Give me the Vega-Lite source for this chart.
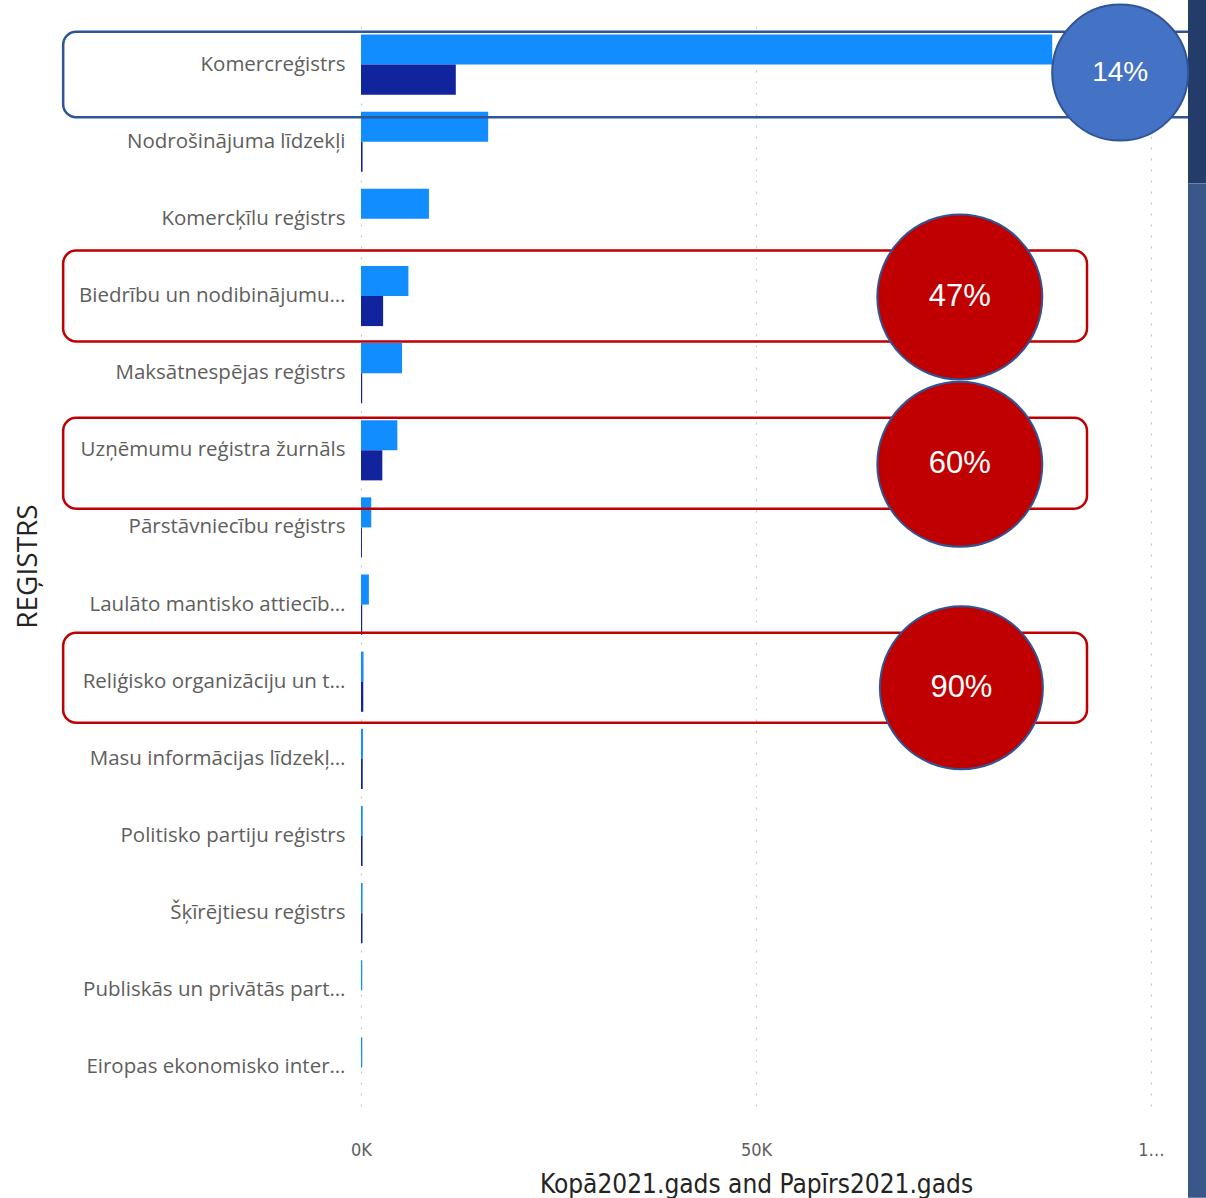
{
  "$schema": "https://vega.github.io/schema/vega-lite/v6.json",
  "autosize": {"type": "none"},
  "width": 790,
  "height": 1080,
  "padding": {"left": 361, "top": 26, "right": 55, "bottom": 92},
  "background": "white",
  "config": {"view": {"stroke": null}, "font": "Open Sans"},
  "datasets": {
    "bars": [
      {"registrs": "Komercreģistrs", "series": "Kopā2021.gads", "value": 87500},
      {"registrs": "Komercreģistrs", "series": "Papīrs2021.gads", "value": 12000},
      {"registrs": "Nodrošinājuma līdzekļi", "series": "Kopā2021.gads", "value": 16100},
      {"registrs": "Nodrošinājuma līdzekļi", "series": "Papīrs2021.gads", "value": 200},
      {"registrs": "Komercķīlu reģistrs", "series": "Kopā2021.gads", "value": 8600},
      {"registrs": "Komercķīlu reģistrs", "series": "Papīrs2021.gads", "value": 0},
      {"registrs": "Biedrību un nodibinājumu…", "series": "Kopā2021.gads", "value": 6000},
      {"registrs": "Biedrību un nodibinājumu…", "series": "Papīrs2021.gads", "value": 2800},
      {"registrs": "Maksātnespējas reģistrs", "series": "Kopā2021.gads", "value": 5200},
      {"registrs": "Maksātnespējas reģistrs", "series": "Papīrs2021.gads", "value": 150},
      {"registrs": "Uzņēmumu reģistra žurnāls", "series": "Kopā2021.gads", "value": 4600},
      {"registrs": "Uzņēmumu reģistra žurnāls", "series": "Papīrs2021.gads", "value": 2700},
      {"registrs": "Pārstāvniecību reģistrs", "series": "Kopā2021.gads", "value": 1300},
      {"registrs": "Pārstāvniecību reģistrs", "series": "Papīrs2021.gads", "value": 120},
      {"registrs": "Laulāto mantisko attiecīb…", "series": "Kopā2021.gads", "value": 1000},
      {"registrs": "Laulāto mantisko attiecīb…", "series": "Papīrs2021.gads", "value": 150},
      {"registrs": "Reliģisko organizāciju un t…", "series": "Kopā2021.gads", "value": 320},
      {"registrs": "Reliģisko organizāciju un t…", "series": "Papīrs2021.gads", "value": 290},
      {"registrs": "Masu informācijas līdzekļ…", "series": "Kopā2021.gads", "value": 250},
      {"registrs": "Masu informācijas līdzekļ…", "series": "Papīrs2021.gads", "value": 220},
      {"registrs": "Politisko partiju reģistrs", "series": "Kopā2021.gads", "value": 220},
      {"registrs": "Politisko partiju reģistrs", "series": "Papīrs2021.gads", "value": 200},
      {"registrs": "Šķīrējtiesu reģistrs", "series": "Kopā2021.gads", "value": 200},
      {"registrs": "Šķīrējtiesu reģistrs", "series": "Papīrs2021.gads", "value": 190},
      {"registrs": "Publiskās un privātās part…", "series": "Kopā2021.gads", "value": 160},
      {"registrs": "Publiskās un privātās part…", "series": "Papīrs2021.gads", "value": 0},
      {"registrs": "Eiropas ekonomisko inter…", "series": "Kopā2021.gads", "value": 160},
      {"registrs": "Eiropas ekonomisko inter…", "series": "Papīrs2021.gads", "value": 0}
    ],
    "n47": [{"registrs": "Biedrību un nodibinājumu…", "pct": "47%"}],
    "n60": [{"registrs": "Uzņēmumu reģistra žurnāls", "pct": "60%"}],
    "n90": [{"registrs": "Reliģisko organizāciju un t…", "pct": "90%"}],
    "n14": [{"registrs": "Komercreģistrs", "pct": "14%"}],
    "strip": [{"part": "scrollbar"}]
  },
  "layer": [
    {
      "data": {"name": "bars"},
      "mark": {"type": "bar"},
      "encoding": {
        "y": {
          "field": "registrs", "type": "nominal", "title": "REĢISTRS",
          "scale": {"domain": ["Komercreģistrs", "Nodrošinājuma līdzekļi", "Komercķīlu reģistrs", "Biedrību un nodibinājumu…", "Maksātnespējas reģistrs", "Uzņēmumu reģistra žurnāls", "Pārstāvniecību reģistrs", "Laulāto mantisko attiecīb…", "Reliģisko organizāciju un t…", "Masu informācijas līdzekļ…", "Politisko partiju reģistrs", "Šķīrējtiesu reģistrs", "Publiskās un privātās part…", "Eiropas ekonomisko inter…"], "paddingInner": 0.22, "paddingOuter": 0.11},
          "axis": {
            "ticks": false, "domain": false, "grid": false,
            "labelFont": "Open Sans", "labelFontSize": 20.5, "labelColor": "#605e5c", "labelPadding": 16, "labelLimit": 0,
            "titleFont": "Open Sans", "titleFontSize": 28, "titleFontWeight": "normal", "titleColor": "#252423",
            "titleX": -333, "titleY": 540, "titleAngle": -90, "titleAlign": "center", "titleBaseline": "middle"
          }
        },
        "yOffset": {"field": "series", "type": "nominal", "scale": {"domain": ["Kopā2021.gads", "Papīrs2021.gads"], "paddingInner": 0}},
        "x": {
          "field": "value", "type": "quantitative", "title": "Kopā2021.gads and Papīrs2021.gads",
          "scale": {"domain": [0, 100000], "nice": false},
          "axis": {
            "values": [0, 50000, 100000],
            "labelExpr": "datum.value == 0 ? '0K' : (datum.value == 50000 ? '50K' : '1…')",
            "grid": true, "gridColor": "#c8c6c4", "gridDash": [2, 9], "gridWidth": 1.2,
            "domain": false, "ticks": false,
            "labelFont": "DejaVu Sans Condensed", "labelFontSize": 18, "labelColor": "#605e5c", "labelPadding": 35, "labelFlush": false,
            "titleFont": "DejaVu Sans Condensed", "titleFontSize": 26, "titleFontWeight": "normal", "titleColor": "#252423", "titlePadding": 12
          }
        },
        "color": {"field": "series", "type": "nominal", "scale": {"domain": ["Kopā2021.gads", "Papīrs2021.gads"], "range": ["#118DFF", "#12239E"]}, "legend": null}
      }
    },
    {
      "data": {"name": "n47"},
      "mark": {"type": "bar", "fill": "transparent", "stroke": "#c00000", "strokeWidth": 2.5, "cornerRadius": 13, "height": {"band": 1.51}, "yOffset": 0, "clip": false},
      "encoding": {
        "y": {"field": "registrs", "type": "nominal", "title": "REĢISTRS", "scale": {"domain": ["Komercreģistrs", "Nodrošinājuma līdzekļi", "Komercķīlu reģistrs", "Biedrību un nodibinājumu…", "Maksātnespējas reģistrs", "Uzņēmumu reģistra žurnāls", "Pārstāvniecību reģistrs", "Laulāto mantisko attiecīb…", "Reliģisko organizāciju un t…", "Masu informācijas līdzekļ…", "Politisko partiju reģistrs", "Šķīrējtiesu reģistrs", "Publiskās un privātās part…", "Eiropas ekonomisko inter…"], "paddingInner": 0.22, "paddingOuter": 0.11}},
        "x": {"datum": -37700, "type": "quantitative", "title": "Kopā2021.gads and Papīrs2021.gads", "scale": {"domain": [0, 100000], "nice": false}},
        "x2": {"datum": 91900}
      }
    },
    {
      "data": {"name": "n60"},
      "mark": {"type": "bar", "fill": "transparent", "stroke": "#c00000", "strokeWidth": 2.5, "cornerRadius": 13, "height": {"band": 1.51}, "yOffset": 13, "clip": false},
      "encoding": {
        "y": {"field": "registrs", "type": "nominal", "title": "REĢISTRS", "scale": {"domain": ["Komercreģistrs", "Nodrošinājuma līdzekļi", "Komercķīlu reģistrs", "Biedrību un nodibinājumu…", "Maksātnespējas reģistrs", "Uzņēmumu reģistra žurnāls", "Pārstāvniecību reģistrs", "Laulāto mantisko attiecīb…", "Reliģisko organizāciju un t…", "Masu informācijas līdzekļ…", "Politisko partiju reģistrs", "Šķīrējtiesu reģistrs", "Publiskās un privātās part…", "Eiropas ekonomisko inter…"], "paddingInner": 0.22, "paddingOuter": 0.11}},
        "x": {"datum": -37700, "type": "quantitative", "title": "Kopā2021.gads and Papīrs2021.gads", "scale": {"domain": [0, 100000], "nice": false}},
        "x2": {"datum": 91900}
      }
    },
    {
      "data": {"name": "n90"},
      "mark": {"type": "bar", "fill": "transparent", "stroke": "#c00000", "strokeWidth": 2.5, "cornerRadius": 13, "height": {"band": 1.495}, "yOffset": -4, "clip": false},
      "encoding": {
        "y": {"field": "registrs", "type": "nominal", "title": "REĢISTRS", "scale": {"domain": ["Komercreģistrs", "Nodrošinājuma līdzekļi", "Komercķīlu reģistrs", "Biedrību un nodibinājumu…", "Maksātnespējas reģistrs", "Uzņēmumu reģistra žurnāls", "Pārstāvniecību reģistrs", "Laulāto mantisko attiecīb…", "Reliģisko organizāciju un t…", "Masu informācijas līdzekļ…", "Politisko partiju reģistrs", "Šķīrējtiesu reģistrs", "Publiskās un privātās part…", "Eiropas ekonomisko inter…"], "paddingInner": 0.22, "paddingOuter": 0.11}},
        "x": {"datum": -37700, "type": "quantitative", "title": "Kopā2021.gads and Papīrs2021.gads", "scale": {"domain": [0, 100000], "nice": false}},
        "x2": {"datum": 91900}
      }
    },
    {
      "data": {"name": "n14"},
      "mark": {"type": "bar", "fill": "transparent", "stroke": "#2f5597", "strokeWidth": 2.5, "cornerRadius": 13, "height": {"band": 1.42}, "yOffset": 10, "clip": false},
      "encoding": {
        "y": {"field": "registrs", "type": "nominal", "title": "REĢISTRS", "scale": {"domain": ["Komercreģistrs", "Nodrošinājuma līdzekļi", "Komercķīlu reģistrs", "Biedrību un nodibinājumu…", "Maksātnespējas reģistrs", "Uzņēmumu reģistra žurnāls", "Pārstāvniecību reģistrs", "Laulāto mantisko attiecīb…", "Reliģisko organizāciju un t…", "Masu informācijas līdzekļ…", "Politisko partiju reģistrs", "Šķīrējtiesu reģistrs", "Publiskās un privātās part…", "Eiropas ekonomisko inter…"], "paddingInner": 0.22, "paddingOuter": 0.11}},
        "x": {"datum": -37700, "type": "quantitative", "title": "Kopā2021.gads and Papīrs2021.gads", "scale": {"domain": [0, 100000], "nice": false}},
        "x2": {"datum": 112000}
      }
    },
    {
      "data": {"name": "strip"},
      "mark": {"type": "bar", "color": "#3a5789", "height": {"band": 16.86}, "yOffset": 8.8, "clip": false},
      "encoding": {
        "y": {"datum": "Reliģisko organizāciju un t…", "type": "nominal", "title": "REĢISTRS", "scale": {"domain": ["Komercreģistrs", "Nodrošinājuma līdzekļi", "Komercķīlu reģistrs", "Biedrību un nodibinājumu…", "Maksātnespējas reģistrs", "Uzņēmumu reģistra žurnāls", "Pārstāvniecību reģistrs", "Laulāto mantisko attiecīb…", "Reliģisko organizāciju un t…", "Masu informācijas līdzekļ…", "Politisko partiju reģistrs", "Šķīrējtiesu reģistrs", "Publiskās un privātās part…", "Eiropas ekonomisko inter…"], "paddingInner": 0.22, "paddingOuter": 0.11}},
        "x": {"datum": 104684, "type": "quantitative", "title": "Kopā2021.gads and Papīrs2021.gads", "scale": {"domain": [0, 100000], "nice": false}},
        "x2": {"datum": 108000}
      }
    },
    {
      "data": {"name": "strip"},
      "mark": {"type": "bar", "color": "#243c6a", "height": {"band": 3.04}, "yOffset": 26.9, "clip": false},
      "encoding": {
        "y": {"datum": "Komercreģistrs", "type": "nominal", "title": "REĢISTRS", "scale": {"domain": ["Komercreģistrs", "Nodrošinājuma līdzekļi", "Komercķīlu reģistrs", "Biedrību un nodibinājumu…", "Maksātnespējas reģistrs", "Uzņēmumu reģistra žurnāls", "Pārstāvniecību reģistrs", "Laulāto mantisko attiecīb…", "Reliģisko organizāciju un t…", "Masu informācijas līdzekļ…", "Politisko partiju reģistrs", "Šķīrējtiesu reģistrs", "Publiskās un privātās part…", "Eiropas ekonomisko inter…"], "paddingInner": 0.22, "paddingOuter": 0.11}},
        "x": {"datum": 104684, "type": "quantitative", "title": "Kopā2021.gads and Papīrs2021.gads", "scale": {"domain": [0, 100000], "nice": false}},
        "x2": {"datum": 108000}
      }
    },
    {
      "data": {"name": "n47"},
      "mark": {"type": "point", "shape": "circle", "filled": true, "fill": "#c00000", "stroke": "#2f5597", "strokeWidth": 2, "opacity": 1, "size": 27225, "yOffset": 1, "clip": false},
      "encoding": {
        "y": {"field": "registrs", "type": "nominal", "title": "REĢISTRS", "scale": {"domain": ["Komercreģistrs", "Nodrošinājuma līdzekļi", "Komercķīlu reģistrs", "Biedrību un nodibinājumu…", "Maksātnespējas reģistrs", "Uzņēmumu reģistra žurnāls", "Pārstāvniecību reģistrs", "Laulāto mantisko attiecīb…", "Reliģisko organizāciju un t…", "Masu informācijas līdzekļ…", "Politisko partiju reģistrs", "Šķīrējtiesu reģistrs", "Publiskās un privātās part…", "Eiropas ekonomisko inter…"], "paddingInner": 0.22, "paddingOuter": 0.11}},
        "x": {"datum": 75800, "type": "quantitative", "title": "Kopā2021.gads and Papīrs2021.gads", "scale": {"domain": [0, 100000], "nice": false}}
      }
    },
    {
      "data": {"name": "n47"},
      "mark": {"type": "text", "color": "white", "font": "Liberation Sans", "fontSize": 31, "align": "center", "baseline": "middle", "yOffset": 1, "clip": false},
      "encoding": {
        "y": {"field": "registrs", "type": "nominal", "title": "REĢISTRS", "scale": {"domain": ["Komercreģistrs", "Nodrošinājuma līdzekļi", "Komercķīlu reģistrs", "Biedrību un nodibinājumu…", "Maksātnespējas reģistrs", "Uzņēmumu reģistra žurnāls", "Pārstāvniecību reģistrs", "Laulāto mantisko attiecīb…", "Reliģisko organizāciju un t…", "Masu informācijas līdzekļ…", "Politisko partiju reģistrs", "Šķīrējtiesu reģistrs", "Publiskās un privātās part…", "Eiropas ekonomisko inter…"], "paddingInner": 0.22, "paddingOuter": 0.11}},
        "x": {"datum": 75800, "type": "quantitative", "title": "Kopā2021.gads and Papīrs2021.gads", "scale": {"domain": [0, 100000], "nice": false}},
        "text": {"field": "pct"}
      }
    },
    {
      "data": {"name": "n60"},
      "mark": {"type": "point", "shape": "circle", "filled": true, "fill": "#c00000", "stroke": "#2f5597", "strokeWidth": 2, "opacity": 1, "size": 27225, "yOffset": 14, "clip": false},
      "encoding": {
        "y": {"field": "registrs", "type": "nominal", "title": "REĢISTRS", "scale": {"domain": ["Komercreģistrs", "Nodrošinājuma līdzekļi", "Komercķīlu reģistrs", "Biedrību un nodibinājumu…", "Maksātnespējas reģistrs", "Uzņēmumu reģistra žurnāls", "Pārstāvniecību reģistrs", "Laulāto mantisko attiecīb…", "Reliģisko organizāciju un t…", "Masu informācijas līdzekļ…", "Politisko partiju reģistrs", "Šķīrējtiesu reģistrs", "Publiskās un privātās part…", "Eiropas ekonomisko inter…"], "paddingInner": 0.22, "paddingOuter": 0.11}},
        "x": {"datum": 75800, "type": "quantitative", "title": "Kopā2021.gads and Papīrs2021.gads", "scale": {"domain": [0, 100000], "nice": false}}
      }
    },
    {
      "data": {"name": "n60"},
      "mark": {"type": "text", "color": "white", "font": "Liberation Sans", "fontSize": 31, "align": "center", "baseline": "middle", "yOffset": 14, "clip": false},
      "encoding": {
        "y": {"field": "registrs", "type": "nominal", "title": "REĢISTRS", "scale": {"domain": ["Komercreģistrs", "Nodrošinājuma līdzekļi", "Komercķīlu reģistrs", "Biedrību un nodibinājumu…", "Maksātnespējas reģistrs", "Uzņēmumu reģistra žurnāls", "Pārstāvniecību reģistrs", "Laulāto mantisko attiecīb…", "Reliģisko organizāciju un t…", "Masu informācijas līdzekļ…", "Politisko partiju reģistrs", "Šķīrējtiesu reģistrs", "Publiskās un privātās part…", "Eiropas ekonomisko inter…"], "paddingInner": 0.22, "paddingOuter": 0.11}},
        "x": {"datum": 75800, "type": "quantitative", "title": "Kopā2021.gads and Papīrs2021.gads", "scale": {"domain": [0, 100000], "nice": false}},
        "text": {"field": "pct"}
      }
    },
    {
      "data": {"name": "n90"},
      "mark": {"type": "point", "shape": "circle", "filled": true, "fill": "#c00000", "stroke": "#2f5597", "strokeWidth": 2, "opacity": 1, "size": 26569, "yOffset": 6, "clip": false},
      "encoding": {
        "y": {"field": "registrs", "type": "nominal", "title": "REĢISTRS", "scale": {"domain": ["Komercreģistrs", "Nodrošinājuma līdzekļi", "Komercķīlu reģistrs", "Biedrību un nodibinājumu…", "Maksātnespējas reģistrs", "Uzņēmumu reģistra žurnāls", "Pārstāvniecību reģistrs", "Laulāto mantisko attiecīb…", "Reliģisko organizāciju un t…", "Masu informācijas līdzekļ…", "Politisko partiju reģistrs", "Šķīrējtiesu reģistrs", "Publiskās un privātās part…", "Eiropas ekonomisko inter…"], "paddingInner": 0.22, "paddingOuter": 0.11}},
        "x": {"datum": 76000, "type": "quantitative", "title": "Kopā2021.gads and Papīrs2021.gads", "scale": {"domain": [0, 100000], "nice": false}}
      }
    },
    {
      "data": {"name": "n90"},
      "mark": {"type": "text", "color": "white", "font": "Liberation Sans", "fontSize": 31, "align": "center", "baseline": "middle", "yOffset": 6, "clip": false},
      "encoding": {
        "y": {"field": "registrs", "type": "nominal", "title": "REĢISTRS", "scale": {"domain": ["Komercreģistrs", "Nodrošinājuma līdzekļi", "Komercķīlu reģistrs", "Biedrību un nodibinājumu…", "Maksātnespējas reģistrs", "Uzņēmumu reģistra žurnāls", "Pārstāvniecību reģistrs", "Laulāto mantisko attiecīb…", "Reliģisko organizāciju un t…", "Masu informācijas līdzekļ…", "Politisko partiju reģistrs", "Šķīrējtiesu reģistrs", "Publiskās un privātās part…", "Eiropas ekonomisko inter…"], "paddingInner": 0.22, "paddingOuter": 0.11}},
        "x": {"datum": 76000, "type": "quantitative", "title": "Kopā2021.gads and Papīrs2021.gads", "scale": {"domain": [0, 100000], "nice": false}},
        "text": {"field": "pct"}
      }
    },
    {
      "data": {"name": "n14"},
      "mark": {"type": "point", "shape": "circle", "filled": true, "fill": "#4472c4", "stroke": "#2f5597", "strokeWidth": 2, "opacity": 1, "size": 18496, "yOffset": 8, "clip": false},
      "encoding": {
        "y": {"field": "registrs", "type": "nominal", "title": "REĢISTRS", "scale": {"domain": ["Komercreģistrs", "Nodrošinājuma līdzekļi", "Komercķīlu reģistrs", "Biedrību un nodibinājumu…", "Maksātnespējas reģistrs", "Uzņēmumu reģistra žurnāls", "Pārstāvniecību reģistrs", "Laulāto mantisko attiecīb…", "Reliģisko organizāciju un t…", "Masu informācijas līdzekļ…", "Politisko partiju reģistrs", "Šķīrējtiesu reģistrs", "Publiskās un privātās part…", "Eiropas ekonomisko inter…"], "paddingInner": 0.22, "paddingOuter": 0.11}},
        "x": {"datum": 96100, "type": "quantitative", "title": "Kopā2021.gads and Papīrs2021.gads", "scale": {"domain": [0, 100000], "nice": false}}
      }
    },
    {
      "data": {"name": "n14"},
      "mark": {"type": "text", "color": "white", "font": "Liberation Sans", "fontSize": 28, "align": "center", "baseline": "middle", "yOffset": 8, "clip": false},
      "encoding": {
        "y": {"field": "registrs", "type": "nominal", "title": "REĢISTRS", "scale": {"domain": ["Komercreģistrs", "Nodrošinājuma līdzekļi", "Komercķīlu reģistrs", "Biedrību un nodibinājumu…", "Maksātnespējas reģistrs", "Uzņēmumu reģistra žurnāls", "Pārstāvniecību reģistrs", "Laulāto mantisko attiecīb…", "Reliģisko organizāciju un t…", "Masu informācijas līdzekļ…", "Politisko partiju reģistrs", "Šķīrējtiesu reģistrs", "Publiskās un privātās part…", "Eiropas ekonomisko inter…"], "paddingInner": 0.22, "paddingOuter": 0.11}},
        "x": {"datum": 96100, "type": "quantitative", "title": "Kopā2021.gads and Papīrs2021.gads", "scale": {"domain": [0, 100000], "nice": false}},
        "text": {"field": "pct"}
      }
    }
  ]
}
